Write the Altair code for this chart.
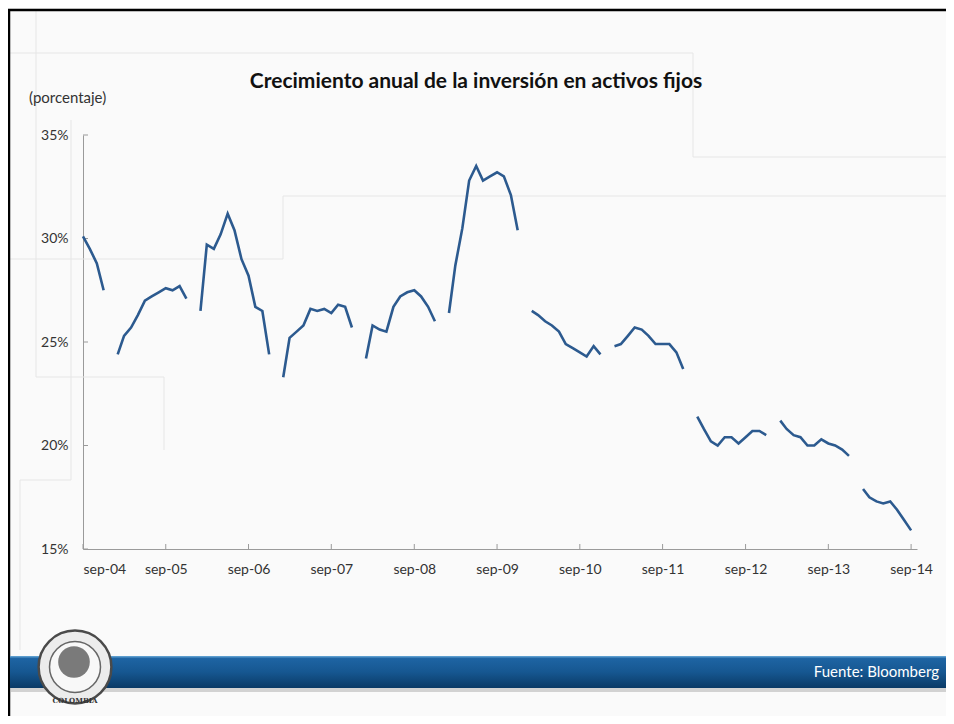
import altair as alt
import pandas as pd

# ---- data (annual growth of fixed-asset investment, %, year-to-date) ----
meses_2004 = [9, 10, 11, 12]
v2004 = [30.1, 29.5, 28.8, 27.5]
meses_std = [2, 3, 4, 5, 6, 7, 8, 9, 10, 11, 12]
v2005 = [24.4, 25.3, 25.7, 26.3, 27.0, 27.2, 27.4, 27.6, 27.5, 27.7, 27.1]
v2006 = [26.5, 29.7, 29.5, 30.2, 31.2, 30.4, 29.0, 28.2, 26.7, 26.5, 24.4]
v2007 = [23.3, 25.2, 25.5, 25.8, 26.6, 26.5, 26.6, 26.4, 26.8, 26.7, 25.7]
v2008 = [24.2, 25.8, 25.6, 25.5, 26.7, 27.2, 27.4, 27.5, 27.2, 26.7, 26.0]
v2009 = [26.4, 28.7, 30.5, 32.8, 33.5, 32.8, 33.0, 33.2, 33.0, 32.1, 30.4]
v2010 = [26.5, 26.3, 26.0, 25.8, 25.5, 24.9, 24.7, 24.5, 24.3, 24.8, 24.4]
v2011 = [24.8, 24.9, 25.3, 25.7, 25.6, 25.3, 24.9, 24.9, 24.9, 24.5, 23.7]
v2012 = [21.4, 20.8, 20.2, 20.0, 20.4, 20.4, 20.1, 20.4, 20.7, 20.7, 20.5]
v2013 = [21.2, 20.8, 20.5, 20.4, 20.0, 20.0, 20.3, 20.1, 20.0, 19.8, 19.5]
meses_2014 = [2, 3, 4, 5, 6, 7, 8, 9]
v2014 = [17.9, 17.5, 17.3, 17.2, 17.3, 16.9, 16.4, 15.9]

series = [
    (2004, meses_2004, v2004), (2005, meses_std, v2005), (2006, meses_std, v2006),
    (2007, meses_std, v2007), (2008, meses_std, v2008), (2009, meses_std, v2009),
    (2010, meses_std, v2010), (2011, meses_std, v2011), (2012, meses_std, v2012),
    (2013, meses_std, v2013), (2014, meses_2014, v2014),
]
rows = []
for anio, meses, vals in series:
    for m, v in zip(meses, vals):
        rows.append({"fecha": f"{anio}-{m:02d}-01T00:00:00", "valor": v, "seg": str(anio)})
df = pd.DataFrame(rows)

tick_years = list(range(2004, 2015))
y_ticks = [15, 20, 25, 30, 35]

titulo = "Crecimiento anual de la inversión en activos fijos"
unidad = "(porcentaje)"
fuente = "Fuente: Bloomberg"

FONT = "Lato"
one = alt.Data(values=[{}])

x_scale = alt.Scale(
    domain=[alt.DateTime(year=2004, month=9, date=1),
            alt.DateTime(year=2014, month=9, date=27)],
    nice=False,
)
y_scale = alt.Scale(domain=[15, 35], zero=False, nice=False)

# ---- main line ----
line = alt.Chart(df).mark_line(color="#2c5a8f", strokeWidth=2.6).encode(
    x=alt.X(
        "fecha:T", title=None, scale=x_scale,
        axis=alt.Axis(
            values=[alt.DateTime(year=y, month=9, date=1) for y in tick_years],
            labelExpr="lower(timeFormat(datum.value, '%b-%y'))",
            grid=False, domainColor="#9a9a9a", ticks=False,
            labelPadding=13, labelFontSize=14, labelColor="#333333",
            labelFont=FONT,
        ),
    ),
    y=alt.Y(
        "valor:Q", title=None, scale=y_scale,
        axis=alt.Axis(
            values=y_ticks, labelExpr="datum.value + '%'",
            grid=False, domainColor="#9a9a9a", ticks=False,
            labelPadding=15, labelFontSize=14, labelColor="#333333",
            labelFont=FONT,
        ),
    ),
    detail="seg:N",
)

# ---- inward tick marks (positioned through the scales) ----
xt_df = pd.DataFrame({"fecha": [f"{y}-09-01T00:00:00" for y in tick_years]})
yt_df = pd.DataFrame({"valor": y_ticks})
x_ticks = alt.Chart(xt_df).mark_rule(color="#9a9a9a", strokeWidth=1).encode(
    x=alt.X("fecha:T", scale=x_scale), y=alt.value(414), y2=alt.value(409)
)
y_ticks_l = alt.Chart(yt_df).mark_rule(color="#9a9a9a", strokeWidth=1).encode(
    y=alt.Y("valor:Q", scale=y_scale), x=alt.value(0), x2=alt.value(5)
)

# ---- decorative background lines (pixel positions relative to plot origin) ----
def rule(x1, x2, y1, y2, color="#e6e6e6", w=1):
    return alt.Chart(one).mark_rule(color=color, strokeWidth=w).encode(
        x=alt.value(x1), x2=alt.value(x2), y=alt.value(y1), y2=alt.value(y2)
    )

OX, OY = 83, 135  # plot origin in page coordinates
def prule(px1, px2, py1, py2, **kw):
    return rule(px1 - OX, px2 - OX, py1 - OY, py2 - OY, **kw)

decor = [
    prule(8, 693, 53, 53), prule(693, 693, 53, 157), prule(693, 946, 157, 157),
    prule(8, 283, 259, 259), prule(283, 283, 196, 259), prule(283, 946, 196, 196),
    prule(36, 36, 11, 377), prule(36, 164, 377, 377), prule(164, 164, 377, 450),
    prule(71, 71, 120, 480), prule(20, 71, 480, 480), prule(20, 20, 480, 650),
    # black frame
    prule(8, 946, 10, 10, color="#000000", w=2.5),
    prule(9, 9, 10, 716, color="#000000", w=2.5),
]

# ---- footer band ----
band_shadow = alt.Chart(one).mark_rect(color="#b8b8b8", opacity=0.6).encode(
    x=alt.value(10 - OX), x2=alt.value(946 - OX),
    y=alt.value(687 - OY), y2=alt.value(692 - OY),
)
band = alt.Chart(one).mark_rect(
    fill=alt.Gradient(
        gradient="linear", x1=0, x2=0, y1=0, y2=1,
        stops=[alt.GradientStop(color="#6aaad8", offset=0),
               alt.GradientStop(color="#1e64a3", offset=0.08),
               alt.GradientStop(color="#165791", offset=0.5),
               alt.GradientStop(color="#0a3a66", offset=1)],
    )
).encode(
    x=alt.value(10 - OX), x2=alt.value(946 - OX),
    y=alt.value(656 - OY), y2=alt.value(688 - OY),
)
fuente_txt = alt.Chart(one).mark_text(
    text=fuente, font=FONT, fontSize=15, color="#ffffff", align="right", baseline="alphabetic"
).encode(x=alt.value(939 - OX), y=alt.value(677 - OY))

# ---- logo (approximation) ----
logo_outer = alt.Chart(one).mark_point(
    shape="circle", size=5300, filled=True, fill="#ececec", stroke="#4a4a4a", strokeWidth=2.5, opacity=1
).encode(x=alt.value(75 - OX), y=alt.value(667 - OY))
logo_inner = alt.Chart(one).mark_point(
    shape="circle", size=2600, filled=True, fill="#f8f8f8", stroke="#666666", strokeWidth=1.5, opacity=1
).encode(x=alt.value(75 - OX), y=alt.value(667 - OY))
logo_head = alt.Chart(one).mark_point(
    shape="circle", size=1000, filled=True, fill="#7a7a7a", opacity=1
).encode(x=alt.value(74 - OX), y=alt.value(662 - OY))
logo_txt = alt.Chart(one).mark_text(
    text="COLOMBIA", font="DejaVu Serif", fontSize=7, fontWeight="bold", color="#333333"
).encode(x=alt.value(75 - OX), y=alt.value(701 - OY))

# ---- titles ----
title_txt = alt.Chart(one).mark_text(
    text=titulo, font=FONT, fontSize=21, fontWeight="bold", color="#111111",
    align="center", baseline="alphabetic"
).encode(x=alt.value(476 - OX), y=alt.value(88 - OY))
unidad_txt = alt.Chart(one).mark_text(
    text=unidad, font=FONT, fontSize=15, color="#333333", align="left", baseline="alphabetic"
).encode(x=alt.value(29 - OX), y=alt.value(103 - OY))

chart = alt.layer(
    *decor, band_shadow, band, fuente_txt, logo_outer, logo_inner, logo_head, logo_txt,
    title_txt, unidad_txt, x_ticks, y_ticks_l, line,
).properties(
    width=834, height=414,
    padding={"left": 75, "top": 127, "right": 29, "bottom": 167},
    autosize="none",
    background="#fafafa",
).configure_view(stroke=None)

chart.save("out.html", embed_options={"renderer": "svg", "actions": False})
